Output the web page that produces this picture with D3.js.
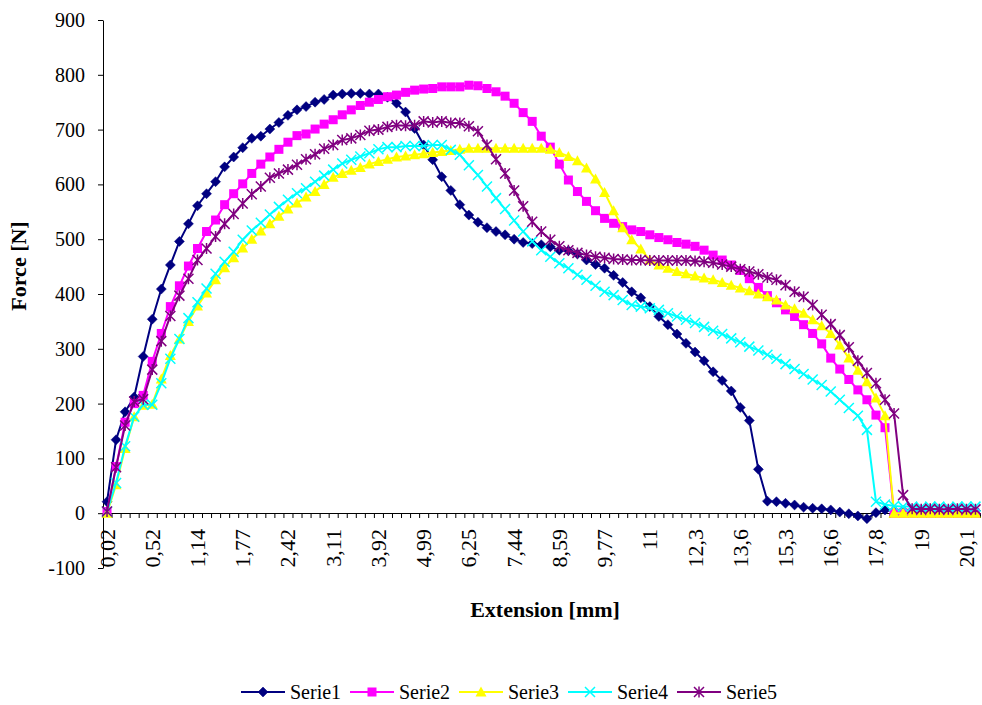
<!DOCTYPE html>
<html>
<head>
<meta charset="utf-8">
<script src="https://d3js.org/d3.v7.min.js"></script>
</head>
<body style="margin:0">
<script>
// Series values, one per category (97 measuring points)
var serie1 = [21,134,185,212,286,354,409,453,496,528,
  561,583,605,632,650,667,684,688,701,713,
  726,736,742,750,755,763,765,766,766,765,
  765,759,748,732,702,672,645,614,589,563,
  544,531,521,514,508,500,494,492,490,486,
  480,479,473,462,454,447,434,421,404,393,
  377,359,344,327,310,294,278,258,242,223,
  193,169,80,22,21,18,15,11,9,8,
  6,2,-1,-5,-10,1,6,5,5,5,
  5,5,5,5,5,5,5];
var serie2 = [3,85,166,200,215,277,328,377,415,451,
  483,514,535,563,583,601,620,637,650,664,
  677,689,692,701,710,718,727,736,744,750,
  755,760,763,768,772,774,775,778,778,778,
  781,780,775,769,761,748,731,715,688,668,
  637,608,587,569,552,538,529,523,517,514,
  508,503,499,494,491,487,480,471,462,453,
  443,428,412,397,384,371,359,344,328,309,
  283,263,244,225,207,179,156,0,0,0,
  0,0,0,0,0,0,0];
var serie3 = [0,52,118,176,197,199,245,288,318,350,
  378,402,426,448,466,484,500,515,528,542,
  555,566,577,587,600,613,620,626,631,637,
  642,646,650,652,654,656,658,660,662,664,
  666,666,666,666,666,666,666,666,666,664,
  658,651,643,630,610,585,552,521,499,482,
  462,453,447,441,437,433,429,426,421,416,
  411,406,400,395,389,380,373,365,353,342,
  328,307,283,261,240,210,178,0,0,0,
  0,0,0,0,0,0,0];
var serie4 = [3,55,122,176,198,198,237,282,318,356,
  385,410,437,459,477,499,516,530,545,559,
  572,584,593,605,616,627,638,645,651,657,
  664,668,668,670,670,670,672,672,663,654,
  635,617,596,575,555,534,514,496,480,468,
  456,447,435,426,415,404,398,389,380,377,
  374,371,365,359,353,347,340,333,327,319,
  312,304,297,289,282,272,263,254,244,234,
  222,207,192,178,152,21,16,13,12,12,
  11,12,12,11,12,12,12];
var serie5 = [3,84,160,204,208,262,314,360,397,428,
  462,483,505,528,546,565,582,596,612,620,
  627,636,646,655,665,672,681,684,690,698,
  700,705,708,707,708,715,713,715,712,712,
  706,697,672,646,620,589,560,532,514,499,
  487,480,475,471,468,466,464,463,462,462,
  461,461,461,461,461,460,459,457,454,450,
  445,441,436,430,426,416,404,395,380,362,
  345,325,303,278,256,237,207,182,33,8,
  7,8,7,7,8,7,7];

// Extension labels shown under every 5th category
var xLabels = ["0,02","0,52","1,14","1,77","2,42","3,11","3,92","4,99","6,25","7,44",
  "8,59","9,77","11","12,3","13,6","15,3","16,6","17,8","19","20,1"];
var labelStep = 5;

var yTicks = [-100,0,100,200,300,400,500,600,700,800,900];
var seriesNames = ["Serie1","Serie2","Serie3","Serie4","Serie5"];

var seriesList = [serie1, serie2, serie3, serie4, serie5];
var colors = ["#000080","#FF00FF","#FFFF00","#00FFFF","#800080"];
var shapes = ["diamond","square","triangle","x","star"];

var svgWidth = 982;
var svgHeight = 705;
var fontFam = "Liberation Serif";

var plot = { left: 102.5, right: 980, top: 20, bottom: 568 };

var svg = d3.select("body")
  .append("svg")
  .attr("width", svgWidth)
  .attr("height", svgHeight)
  .attr("font-family", fontFam);

svg.append("rect")
  .attr("width", svgWidth)
  .attr("height", svgHeight)
  .attr("fill", "#fff");

var nCat = serie1.length;

// category axis: each point sits in the middle of its band
var xBand = d3.scaleBand()
  .domain(d3.range(nCat))
  .range([plot.left, plot.right]);

var xEdge = d3.scaleLinear()
  .domain([0, nCat])
  .range([plot.left, plot.right]);

var yScale = d3.scaleLinear()
  .domain([-100, 900])
  .range([plot.bottom, plot.top]);

function cx(i) { return xBand(i) + xBand.bandwidth() / 2; }

// y axis
var leftAxis = d3.axisLeft(yScale)
  .tickValues(yTicks)
  .tickFormat(d => String(d))
  .tickSizeInner(5)
  .tickSizeOuter(0)
  .tickPadding(13);

var yAxisG = svg.append("g")
  .attr("transform", `translate(${Math.round(plot.left)}, 0)`)
  .call(leftAxis)
  .attr("font-family", fontFam)
  .attr("font-size", 20);
yAxisG.selectAll("text")
  .attr("font-family", fontFam)
  .attr("fill", "#000");

// x axis at y = 0, tick marks between categories
var bottomAxis = d3.axisBottom(xEdge)
  .tickValues(d3.range(nCat + 1))
  .tickFormat("")
  .tickSizeInner(5)
  .tickSizeOuter(0);

svg.append("g")
  .attr("transform", `translate(0, ${Math.round(yScale(0))})`)
  .call(bottomAxis);

svg.selectAll(".domain, .tick line").attr("stroke", "#000");

// rotated category labels
svg.append("g")
  .selectAll("text")
  .data(xLabels)
  .enter()
  .append("text")
  .attr("transform", (d, k) => `translate(${cx(k * labelStep)}, 529) rotate(-90)`)
  .attr("text-anchor", "end")
  .attr("dominant-baseline", "central")
  .attr("font-family", fontFam)
  .attr("font-size", 22)
  .text(d => d);

// marker drawing
function drawMarker(g, shape, color) {
  var r = 5;
  if (shape === "diamond") {
    g.append("path").attr("d", `M0,${-r}L${r},0L0,${r}L${-r},0Z`)
      .attr("fill", color).attr("stroke", color).attr("stroke-width", 0.5);
  } else if (shape === "square") {
    g.append("rect").attr("x", -4.5).attr("y", -4.5).attr("width", 9).attr("height", 9)
      .attr("fill", color);
  } else if (shape === "triangle") {
    g.append("path").attr("d", `M0,-5.5L5.5,4.5L-5.5,4.5Z`)
      .attr("fill", color);
  } else if (shape === "x") {
    g.append("path").attr("d", `M${-r},${-r}L${r},${r}M${-r},${r}L${r},${-r}`)
      .attr("fill", "none").attr("stroke", color).attr("stroke-width", 1.5);
  } else {
    g.append("path").attr("d", `M${-r},${-r}L${r},${r}M${-r},${r}L${r},${-r}M0,${-r - 0.5}L0,${r + 0.5}`)
      .attr("fill", "none").attr("stroke", color).attr("stroke-width", 1.5);
  }
}

var line = d3.line()
  .x((d, i) => cx(i))
  .y(d => yScale(d));

seriesList.forEach(function(values, s) {
  var g = svg.append("g");
  g.append("path")
    .datum(values)
    .attr("fill", "none")
    .attr("stroke", colors[s])
    .attr("stroke-width", 2)
    .attr("d", line);

  g.selectAll("g.marker")
    .data(values)
    .enter()
    .append("g")
    .attr("class", "marker")
    .attr("transform", (d, i) => `translate(${cx(i)}, ${yScale(d)})`)
    .each(function() { drawMarker(d3.select(this), shapes[s], colors[s]); });
});

// axis titles
svg.append("text")
  .attr("transform", "translate(26, 266) rotate(-90)")
  .attr("text-anchor", "middle")
  .attr("font-family", fontFam)
  .attr("font-size", 22)
  .attr("font-weight", "bold")
  .text("Force [N]");

svg.append("text")
  .attr("x", 545)
  .attr("y", 617)
  .attr("text-anchor", "middle")
  .attr("font-family", fontFam)
  .attr("font-size", 22)
  .attr("font-weight", "bold")
  .text("Extension [mm]");

// legend
var legendX = [241, 350, 459, 568, 677];
var legend = svg.append("g");
seriesNames.forEach(function(name, s) {
  var lg = legend.append("g").attr("transform", `translate(${legendX[s]}, 692)`);
  lg.append("line")
    .attr("x1", 0).attr("x2", 44)
    .attr("stroke", colors[s]).attr("stroke-width", 2);
  drawMarker(lg.append("g").attr("transform", "translate(22,0)"), shapes[s], colors[s]);
  lg.append("text")
    .attr("x", 49)
    .attr("y", 6.5)
    .attr("font-family", fontFam)
    .attr("font-size", 20)
    .text(name);
});
</script>
</body>
</html>
